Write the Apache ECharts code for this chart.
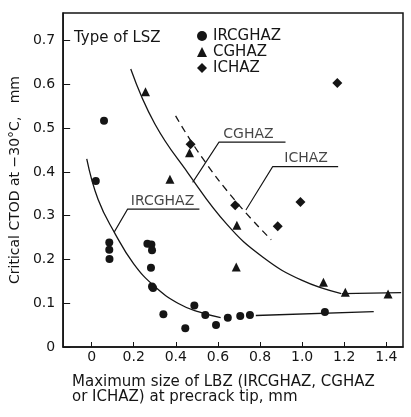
<!DOCTYPE html>
<html>
<head>
<meta charset="utf-8">
<script src="https://cdn.jsdelivr.net/npm/echarts@6/dist/echarts.min.js"></script>
<style>html,body{margin:0;padding:0;background:#fff}#c{width:411px;height:417px}</style>
</head>
<body>
<div id="c"></div>
<script>
// ---- data ----
const xTicks = [0, 0.2, 0.4, 0.6, 0.8, 1.0, 1.2, 1.4];
const yTicks = [0, 0.1, 0.2, 0.3, 0.4, 0.5, 0.6, 0.7];

const ircghazPoints = [
  [0.059, 0.517], [0.02, 0.379], [0.084, 0.239], [0.084, 0.222], [0.085, 0.201],
  [0.265, 0.236], [0.284, 0.234], [0.287, 0.221], [0.282, 0.181], [0.287, 0.138],
  [0.292, 0.135], [0.341, 0.075], [0.445, 0.043], [0.488, 0.095], [0.54, 0.073],
  [0.591, 0.05], [0.647, 0.067], [0.706, 0.071], [0.752, 0.073], [1.108, 0.08]
];
const cghazPoints = [
  [0.256, 0.583], [0.372, 0.383], [0.465, 0.444], [0.69, 0.278], [0.687, 0.183],
  [1.101, 0.148], [1.205, 0.125], [1.408, 0.121]
];
const ichazPoints = [
  [0.47, 0.463], [0.682, 0.324], [0.884, 0.276], [0.992, 0.331], [1.167, 0.603]
];

// fitted trend curves (control points)
const ircghazCurve = [
  [-0.023, 0.43], [0.031, 0.337], [0.108, 0.262], [0.2, 0.19], [0.3, 0.138],
  [0.41, 0.1], [0.51, 0.08], [0.613, 0.067]
];
const ircghazFlat = [[0.78, 0.072], [1.34, 0.081]];
const cghazCurve = [
  [0.186, 0.635], [0.3, 0.51], [0.457, 0.398], [0.643, 0.28], [0.814, 0.205],
  [1.0, 0.152], [1.186, 0.122]
];
const cghazFlat = [[1.19, 0.122], [1.47, 0.124]];
const ichazCurve = [
  [0.399, 0.528], [0.52, 0.436], [0.69, 0.33], [0.853, 0.245]
];

// annotation leaders (underline + pointer) and their texts
const leaderNames = ['CGHAZ', 'ICHAZ', 'IRCGHAZ'];
const leaderLines = [
  [[0.921, 0.468], [0.605, 0.468], [0.48, 0.376]],
  [[1.171, 0.412], [0.86, 0.412], [0.733, 0.313]],
  [[0.512, 0.315], [0.171, 0.315], [0.108, 0.263]]
];
const leaderTextAt = [[0.745, 0.468], [1.019, 0.412], [0.337, 0.315]];

const seriesNames = ['IRCGHAZ', 'CGHAZ', 'ICHAZ'];
const seriesSymbols = ['circle', 'triangle', 'diamond'];

// ---- chart ----
const INK = '#151515';
const FONT = 'DejaVu Sans';
const chart = echarts.init(document.getElementById('c'), null, {renderer: 'canvas'});
const fmt = v => (v === 0 ? '0' : v.toFixed(1));

function curve(data, dashed) {
  return {
    type: 'line', data: data, smooth: 0.45, showSymbol: false, symbol: 'none',
    silent: true, z: 2,
    lineStyle: dashed ? {color: INK, width: 1.3, type: [7, 5]} : {color: INK, width: 1.3}
  };
}

const series = [
  curve(ircghazCurve), curve(ircghazFlat), curve(cghazCurve), curve(cghazFlat), curve(ichazCurve, true)
];
leaderLines.forEach(d => series.push({
  type: 'line', data: d, showSymbol: false, symbol: 'none', silent: true, z: 2,
  lineStyle: {color: INK, width: 1.1}
}));
series.push({
  type: 'scatter', symbolSize: 0, silent: true, z: 3,
  data: leaderTextAt.map((p, i) => ({value: p, name: leaderNames[i]})),
  label: {show: true, position: 'top', distance: 1, formatter: p => p.name,
          color: INK, fontFamily: FONT, fontSize: 14}
});
[ircghazPoints, cghazPoints, ichazPoints].forEach((pts, i) => series.push({
  name: seriesNames[i], type: 'scatter', data: pts, symbol: seriesSymbols[i],
  symbolSize: i === 0 ? 8 : (i === 1 ? 9 : 10), z: 4,
  itemStyle: {color: INK, opacity: 1}
}));

chart.setOption({
  animation: false,
  backgroundColor: '#ffffff',
  grid: {left: 56, right: 8, top: 13, bottom: 70, show: true, borderColor: INK, borderWidth: 1.5},
  title: {text: 'Type of LSZ', left: 69, top: 26,
          textStyle: {color: INK, fontFamily: FONT, fontSize: 15, fontWeight: 'normal'}},
  legend: {
    orient: 'vertical', left: 192, top: 23, itemGap: 0, itemWidth: 10, itemHeight: 10,
    data: seriesNames.map((n, i) => ({name: n, icon: seriesSymbols[i]})),
    textStyle: {color: INK, fontFamily: FONT, fontSize: 15, lineHeight: 16, padding: [0, 0, 0, 1]},
    itemStyle: {color: INK}
  },
  xAxis: {
    type: 'value', min: -0.135, max: 1.479,
    axisLine: {show: true, onZero: false, lineStyle: {color: INK, width: 1.5}},
    axisTick: {show: true, inside: true, length: 5, customValues: xTicks, lineStyle: {color: INK}},
    axisLabel: {customValues: xTicks, formatter: fmt, color: INK, fontFamily: FONT, fontSize: 14, margin: 3},
    splitLine: {show: false}
  },
  yAxis: {
    type: 'value', min: 0, max: 0.763,
    name: 'Critical CTOD at \u221230\u00b0C,   mm', nameLocation: 'middle', nameGap: 28,
    nameTextStyle: {color: INK, fontFamily: FONT, fontSize: 14},
    axisLine: {show: true, onZero: false, lineStyle: {color: INK, width: 1.5}},
    axisTick: {show: true, inside: true, length: 7, customValues: yTicks, lineStyle: {color: INK}},
    axisLabel: {customValues: yTicks, formatter: fmt, color: INK, fontFamily: FONT, fontSize: 14, margin: 8},
    splitLine: {show: false}
  },
  graphic: [{
    type: 'text', left: 72, top: 375,
    style: {text: 'Maximum size of LBZ (IRCGHAZ, CGHAZ\nor ICHAZ) at precrack tip, mm',
            fill: INK, font: '15px "DejaVu Sans"', lineHeight: 15}
  }],
  series: series
});
</script>
</body>
</html>
